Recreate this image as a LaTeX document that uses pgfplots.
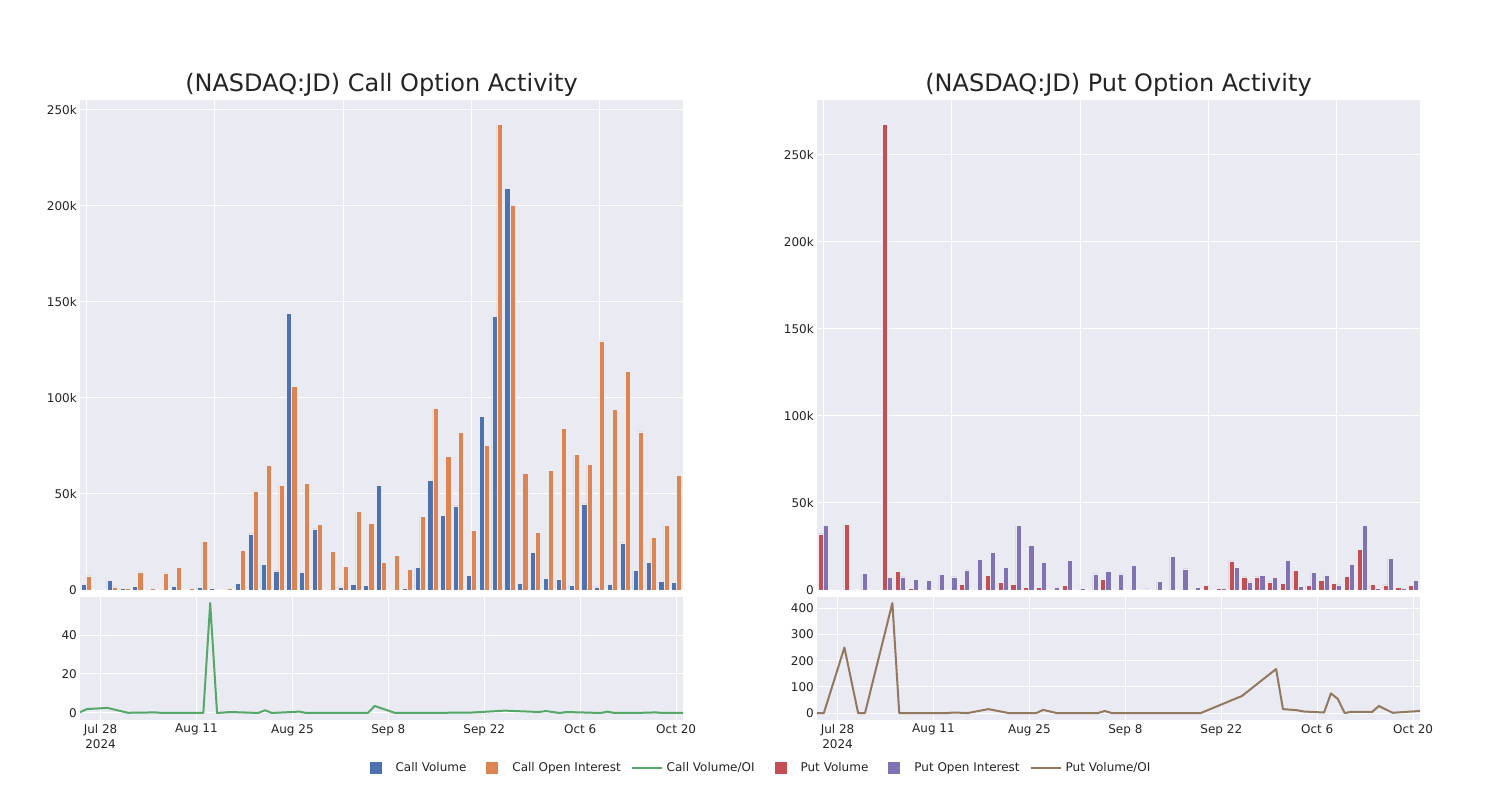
\documentclass[border=0pt]{standalone}
\usepackage{pgfplots}
\pgfplotsset{compat=1.18}
\usepackage{pgfplotstable}
\usepackage{fontspec}
\setmainfont{DejaVu Sans}
\definecolor{cvol}{HTML}{4C72B0}
\definecolor{coi}{HTML}{DD8452}
\definecolor{cratio}{HTML}{55A868}
\definecolor{pvol}{HTML}{C44E52}
\definecolor{poi}{HTML}{8172B3}
\definecolor{pratio}{HTML}{937860}
\definecolor{bg}{HTML}{EAEAF2}
\definecolor{txt}{HTML}{242424}

% values in thousands
\pgfplotstableread{
i vol oi
0 3.0 7.3
1 0.5 0.2
2 5.0 1.6
3 0.7 1.0
4 1.7 9.4
5 0.2 0.7
6 0.1 8.9
7 1.9 11.8
8 0.1 1.0
9 1.4 25.3
10 1.0 0.0
11 0.1 1.0
12 3.6 20.7
13 29.2 51.6
14 13.5 65.0
15 10.0 54.3
16 144.1 105.9
17 9.5 55.4
18 31.8 34.0
19 0.5 20.1
20 1.6 12.3
21 3.0 41.1
22 2.3 34.7
23 54.5 14.4
24 0.1 18.2
25 0.9 10.6
26 11.6 38.4
27 56.9 94.6
28 38.9 69.6
29 43.8 82.1
30 7.5 30.9
31 90.6 75.2
32 142.4 242.4
33 209.2 200.2
34 3.6 60.9
35 19.6 29.9
36 6.1 62.3
37 5.7 84.0
38 2.6 70.5
39 44.8 65.6
40 1.6 129.7
41 3.0 93.9
42 24.5 113.9
43 10.2 82.3
44 14.4 27.3
45 4.5 33.5
46 3.8 59.5
}\calltab

\pgfplotstableread{
i vol oi
0 32.2 37.0
1 0.1 0.3
2 37.9 0.15
3 0.1 9.4
4 0.0 0.2
5 267.6 7.1
6 10.9 7.5
7 1.0 5.9
8 0.0 5.4
9 0.0 8.8
10 0.2 7.5
11 3.3 11.5
12 0.3 17.8
13 8.6 21.6
14 4.2 13.0
15 3.3 37.0
16 1.7 25.7
17 1.5 15.9
18 0.0 1.5
19 2.7 17.0
20 0.2 0.8
21 0.1 9.2
22 5.9 10.5
23 0.0 9.2
24 0.1 14.2
25 0.0 0.6
26 0.0 5.0
27 0.2 19.3
28 0.4 12.1
29 0.1 1.3
30 2.5 0.3
31 1.0 1.1
32 16.7 12.8
33 7.5 4.6
34 7.5 8.4
35 4.6 7.3
36 3.8 17.0
37 11.1 2.1
38 2.7 10.3
39 5.4 8.6
40 3.8 2.9
41 7.9 14.9
42 23.4 37.2
43 3.3 0.8
44 2.9 18.2
45 1.3 1.0
46 2.5 5.6
}\puttab

\pgfplotsset{
  base/.style={
    scale only axis,
    anchor=south west,
    axis background/.style={fill=bg},
    axis line style={draw=none},
    grid=major,
    major grid style={white, line width=1pt},
    major tick length=0pt,
    tick style={draw=none},
    ticklabel style={font=\fontsize{12}{15}\selectfont, text=txt},
    /pgf/number format/assume math mode=true,
    yticklabel style={anchor=east, inner sep=0pt, xshift=-3pt},
  },
  topbars/.style={
    base, width=603pt, height=490pt,
    xmin=-0.5, xmax=46.5, ymin=0,
    xtick={0,10,20,30,40}, xticklabels={},
    ytick={0,50,100,150,200,250},
    yticklabels={0,50k,100k,150k,200k,250k},
    title style={font=\fontsize{24}{28}\selectfont, text=txt, anchor=base, yshift=2.3pt},
  },
  bottomline/.style={
    base, width=603pt, height=123pt,
    xmin=-3, xmax=85,
    xtick={0,14,28,42,56,70,84},
    xticklabels={{Jul 28\\2024},Aug 11,Aug 25,Sep 8,Sep 22,Oct 6,Oct 20},
    xticklabel style={align=center, anchor=north, inner sep=0pt, yshift=-4pt},
  },
  barA/.style={ybar, bar width=0.4, bar shift=-0.2, draw=bg, line width=0.5pt},
  barB/.style={ybar, bar width=0.4, bar shift=0.2, draw=bg, line width=0.5pt},
  sqimg/.style={legend image code/.code={\path[draw=none,fill=none] (0pt,-6pt) rectangle (40pt,6pt); \fill[#1, draw=none] (14pt,-6pt) rectangle (26pt,6pt);}},
  lnimg/.style={legend image code/.code={\path[draw=none,fill=none] (0pt,-6pt) rectangle (40pt,6pt); \draw[#1, line width=2pt, fill=none] (5pt,0pt) -- (35pt,0pt);}},
}

\begin{document}
\begin{tikzpicture}
\path[use as bounding box] (0pt,0pt) rectangle (1500pt,800pt);

% ---- Call bars
\begin{axis}[topbars, at={(80pt,210pt)}, ymax=255.2,
  title={(NASDAQ:JD) Call Option Activity}]
\addplot[barA, fill=cvol] table[x=i,y=vol]{\calltab};
\addplot[barB, fill=coi] table[x=i,y=oi]{\calltab};
\end{axis}

% ---- Call ratio
\begin{axis}[bottomline, at={(80pt,80pt)}, ymin=-3.6, ymax=59.5, ytick={0,20,40},
  legend columns=6,
  legend style={at={(1.1161,-0.3902)}, anchor=center, draw=none, fill=none,
    font=\fontsize{12}{15}\selectfont, text=txt,
    nodes={inner sep=0pt},
    /tikz/every even column/.append style={column sep=6pt}},
]
\addplot[cratio, line width=2pt, line join=round, forget plot] coordinates {
(-3,0.4) (-2,2.0) (1,2.6) (4,0.1) (8,0.3) (9,0) (15,0) (16,56.4) (17,0) (19,0.5)
(23,0) (24,1.4) (25,0) (29,0.7) (30,0) (39,0) (40,3.6) (43,0) (46,0) (54,0.2)
(59,1.2) (64,0.5) (65,1.0) (67,0) (68,0.5) (73,0) (74,0.7) (75,0) (78,0) (81,0.3)
(82,0) (85,0)};
\addlegendimage{sqimg=cvol}
\addlegendentry{Call Volume}
\addlegendimage{sqimg=coi}
\addlegendentry{Call Open Interest}
\addlegendimage{lnimg=cratio}
\addlegendentry{Call Volume/OI}
\addlegendimage{sqimg=pvol}
\addlegendentry{Put Volume}
\addlegendimage{sqimg=poi}
\addlegendentry{Put Open Interest}
\addlegendimage{lnimg=pratio}
\addlegendentry{Put Volume/OI}
\end{axis}

% ---- Put bars
\begin{axis}[topbars, at={(817pt,210pt)}, ymax=281.5,
  title={(NASDAQ:JD) Put Option Activity}]
\addplot[barA, fill=pvol] table[x=i,y=vol]{\puttab};
\addplot[barB, fill=poi] table[x=i,y=oi]{\puttab};
\end{axis}

% ---- Put ratio
\begin{axis}[bottomline, at={(817pt,80pt)}, ymin=-26.5, ymax=443, ytick={0,100,200,300,400}]
\addplot[pratio, line width=2pt, line join=round] coordinates {
(-3,0) (-2,0) (1,250) (3,0) (4,0) (8,420) (9,0) (16,0) (17,2) (19,0) (22,15) (25,0)
(29,0) (30,12) (32,0) (38,0) (39,8) (40,0) (53,0) (59,65) (64,168) (65,15) (67,11)
(68,6) (71,2) (72,75) (73,54) (74,0) (75,5) (78,4) (79,27) (81,1) (85,8)};
\end{axis}
\end{tikzpicture}
\end{document}
